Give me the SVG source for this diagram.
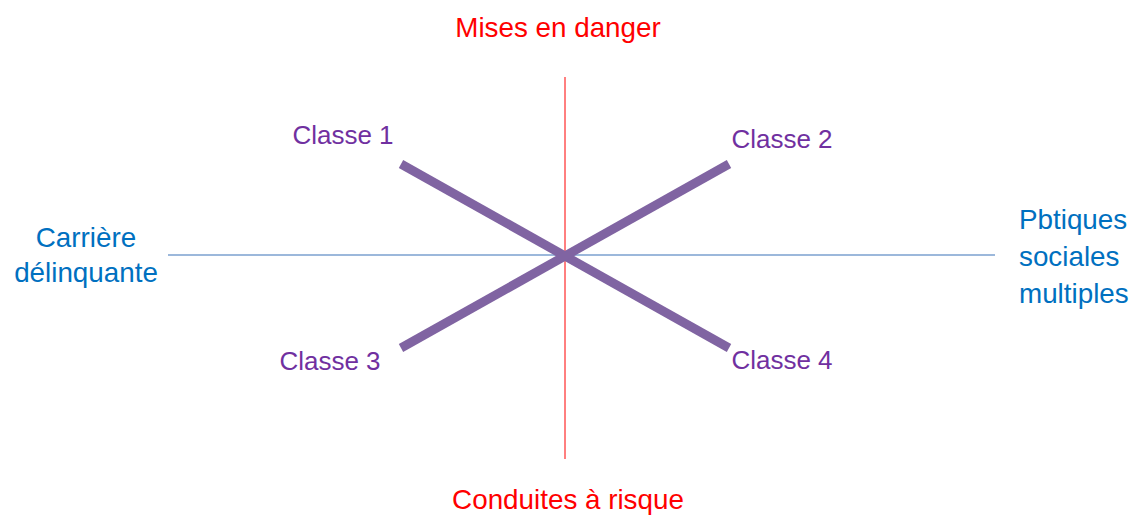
<svg xmlns="http://www.w3.org/2000/svg" width="1140" height="515" viewBox="0 0 1140 515">
<style>
text{font-family:"Liberation Sans",Arial,sans-serif;font-size:27.8px}
.red{fill:#FF0000}
.blue{fill:#0070C0}
.purple{fill:#7030A0;font-size:26px}
.cls{stroke:#8064A2;stroke-width:9;fill:none}
</style>
<rect width="1140" height="515" fill="#fff"/>
<g id="connectors">
<line x1="565" y1="77" x2="565" y2="459" stroke="#FF0000" stroke-width="1"/>
<line x1="168" y1="255" x2="995" y2="255" stroke="#7BA0CF" stroke-width="1.5"/>
<line class="cls" x1="401" y1="164" x2="729" y2="348"/>
<line class="cls" x1="401" y1="348" x2="729" y2="164"/>
</g>
<g id="top"><text class="red" x="558" y="37" text-anchor="middle">Mises en danger</text></g>
<g id="bottom"><text class="red" x="568" y="509" text-anchor="middle">Conduites à risque</text></g>
<g id="left"><text class="blue" x="86" y="247" text-anchor="middle">Carrière</text><text class="blue" x="86" y="282" text-anchor="middle">délinquante</text></g>
<g id="right"><text class="blue" x="1019" y="229">Pbtiques</text><text class="blue" x="1019" y="266">sociales</text><text class="blue" x="1019" y="303">multiples</text></g>
<g id="classe1"><text class="purple" x="343" y="144" text-anchor="middle">Classe 1</text></g>
<g id="classe2"><text class="purple" x="782" y="148" text-anchor="middle">Classe 2</text></g>
<g id="classe3"><text class="purple" x="330" y="370" text-anchor="middle">Classe 3</text></g>
<g id="classe4"><text class="purple" x="782" y="369" text-anchor="middle">Classe 4</text></g>
</svg>
